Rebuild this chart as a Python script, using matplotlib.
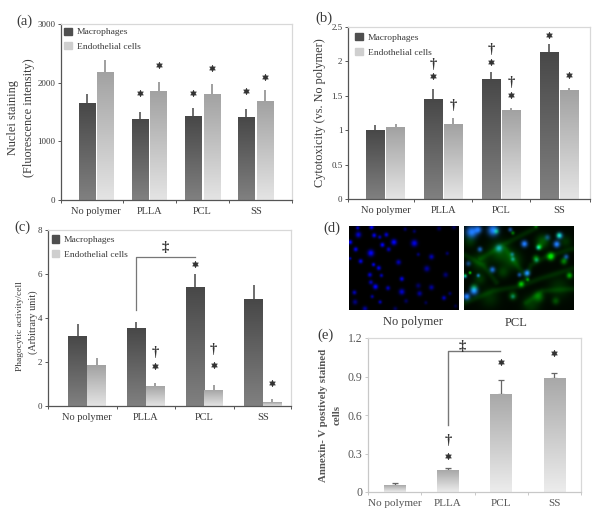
import numpy as np
import matplotlib
matplotlib.use('Agg')
import matplotlib.pyplot as plt
from matplotlib.patches import Patch

plt.rcParams['font.family'] = ['Liberation Serif', 'DejaVu Serif']

W, H = 600, 521
INK = '#3a3a3a'
categories = ['No polymer', 'PLLA', 'PCL', 'SS']
series_names = ['Macrophages', 'Endothelial cells']

# Panel (a)
a_mac = [1645, 1383, 1429, 1412]
a_mac_top = [1805, 1508, 1571, 1548]
a_endo = [2186, 1850, 1810, 1685]
a_endo_top = [2385, 2010, 1975, 1873]
a_ticks = [0, 1000, 2000, 3000]
a_stars_mac = [None, 1827, 1827, 1850]
a_stars_endo = [None, 2300, 2248, 2100]

# Panel (b)
b_mac = [1.0, 1.447, 1.738, 2.13]
b_mac_top = [1.07, 1.6, 1.845, 2.257]
b_endo = [1.04, 1.09, 1.29, 1.578]
b_endo_top = [1.087, 1.184, 1.32, 1.61]
b_ticks = [0, 0.5, 1, 1.5, 2, 2.5]
b_tick_labels = ['0', '0.5', '1', '1.5', '2', '2.5']
b_stars_mac = [None, 1.786, 1.995, 2.39]
b_stars_endo = [None, None, 1.51, 1.80]
b_dag_mac = [None, 1.95, 2.17, None]
b_dag_endo = [None, 1.364, 1.69, None]

# Panel (c)
c_mac = [3.16, 3.54, 5.39, 4.86]
c_mac_top = [3.75, 3.83, 5.99, 5.5]
c_endo = [1.86, 0.91, 0.74, 0.17]
c_endo_top = [2.16, 1.06, 0.95, 0.33]
c_ticks = [0, 2, 4, 6, 8]
c_stars_mac = [None, None, 6.44, None]
c_stars_endo = [None, 1.8, 1.88, 1.06]
c_dag_endo = [None, 2.44, 2.56, None]
c_bracket = [4.36, 6.79]
c_ddag = 7.2

# Panel (e)
e_vals = [0.052, 0.171, 0.766, 0.891]
e_top = [0.07, 0.19, 0.873, 0.927]
e_ticks = [0, 0.3, 0.6, 0.9, 1.2]
e_tick_labels = ['0', '0.3', '0.6', '0.9', '1.2']
e_stars = [None, 0.283, 1.01, 1.08]
e_dag = [None, 0.40, None, None]
e_bracket = [0.525, 1.10]
e_ddag = 1.135

# Panel (d) micrograph spots: x, y, radius, strength (crop coordinates)
d_left_blue = [(38,20,5,.8),(80,18,6,1),(40,40,8,.8),(88,42,6,.9),(105,47,5,.7),(125,40,6,.8),
               (15,62,6,1),(113,70,6,1),(148,62,8,1),(32,83,6,.9),(132,83,6,.7),(78,94,9,1),
               (15,110,4,.7),(47,118,6,.9),(86,128,5,.9),(102,138,6,.9),(162,121,7,.7),(75,158,6,.8),
               (110,160,5,.7),(78,180,6,.7),(92,193,7,1),(130,197,6,.7),(172,170,6,.9),(172,208,8,.8),
               (28,210,6,.7),(82,222,5,.6),(30,238,7,.5),(106,238,5,.7),(60,258,7,.6),(185,235,6,.35),
               (210,65,9,.9),(182,24,5,.4),(210,30,5,.4),(222,98,5,.45),(262,105,7,.7),(310,95,5,.4),
               (248,140,8,.6),(305,158,7,.45),(222,190,7,.4),(262,195,7,.6),(226,213,7,.6),(300,226,6,.7),
               (318,213,5,.4),(245,240,5,.3),(285,22,6,.35),(330,18,6,.35),(335,250,5,.25),(152,258,6,.35)]
d_right_blue = [(35,32,16,1),(55,25,10,.8),(100,27,15,1),(195,67,9,1),(293,68,9,1),(302,43,9,.8),(265,48,8,.45),
                (237,78,6,.6),(60,83,7,.7),(118,80,10,.7),(158,98,6,.5),(160,112,6,.5),(322,105,7,.6),
                (25,125,7,.5),(98,143,8,.8),(55,160,5,.7),(15,163,5,.6),(203,153,8,1),(180,158,6,.6),
                (42,205,11,1),(20,222,9,1),(160,222,6,.35),(232,115,6,.35),(152,25,6,.6)]
d_right_green = [(120,90,28,.32),(60,120,24,.22),(250,60,18,.35),(275,104,10,1),(240,76,8,.7),
                 (160,115,24,.28),(30,152,4,.9),(300,42,7,.6),(315,118,9,.55),(332,160,8,.7),
                 (185,185,8,.8),(205,172,5,.6),(238,222,14,.45),(160,220,11,.4),(15,160,5,.6),
                 (42,195,10,.4),(110,30,7,.5),(160,35,5,.5),(230,110,9,.55),(60,170,16,.2),
                 (130,150,16,.22),(230,15,5,.4),(290,235,10,.3),(30,60,16,.18),(320,60,16,.18),
                 (90,225,26,.16),(215,245,24,.2),(300,195,30,.16)]
d_right_fibres = [[(15,240),(100,205),(180,192),(240,170),(340,140)],
                  [(190,190),(215,130),(260,105),(340,82)],
                  [(60,112),(130,70),(230,20)],
                  [(130,70),(180,140),(200,160)],
                  [(15,100),(70,130),(110,180)],
                  [(200,240),(250,205),(340,200)]]
d_fibre_strength = 0.14
d_fibre_width = 6

def box(ax_left, top, right, bottom):
    return [ax_left / W, 1 - bottom / H, (right - ax_left) / W, (bottom - top) / H]

def label(x, y, s, **kw):
    kw.setdefault('color', INK)
    kw.setdefault('ha', 'center')
    kw.setdefault('va', 'center')
    return fig.text(x / W, 1 - y / H, s, **kw)

def gradient_bars(ax, xs, vals, width, top_col, bottom_col):
    c0 = np.array(matplotlib.colors.to_rgb(top_col))
    c1 = np.array(matplotlib.colors.to_rgb(bottom_col))
    ramp = np.linspace(0, 1, 64)[:, None, None]
    img = c0[None, None, :] * (1 - ramp) + c1[None, None, :] * ramp
    for bar in ax.bar(xs, vals, width, color=(c0 + c1) / 2, linewidth=0, zorder=2):
        im = ax.imshow(img, extent=(bar.get_x(), bar.get_x() + bar.get_width(), 0, bar.get_height()),
                       aspect='auto', zorder=2.1, interpolation='bilinear')
        im.set_clip_path(bar)

def errs(ax, xs, vals, tops, col, cap=0, lw=1.2):
    up = np.array(tops) - np.array(vals)
    ax.errorbar(xs, vals, yerr=[np.zeros_like(up), up], fmt='none', ecolor=col,
                elinewidth=lw, capsize=cap, capthick=lw, zorder=1.5)

def marks(ax, xs, ys, kind):
    for x, y in zip(xs, ys):
        if y is None:
            continue
        if kind == '*':
            ax.plot([x], [y], marker=(6, 1, 0), ms=4.8, color='#333333', mew=0.4, ls='none', zorder=4)
        else:
            ax.text(x, y, kind, ha='center', va='center', fontsize=10.5, fontweight='bold',
                    color='#333333', zorder=4)

def style(ax, ticks, tick_labels, xlim, ylim, xedges, tick_size=6.5, x_size=7.5, dark=True):
    ax.set_xlim(*xlim)
    ax.set_ylim(*ylim)
    ax.set_yticks(ticks)
    ax.set_yticklabels(tick_labels, fontsize=tick_size, color=INK)
    ax.set_xticks(xedges)
    ax.set_xticklabels([])
    ax.set_xticks(range(len(categories)), categories, minor=True, fontsize=x_size, color=INK)
    ax.tick_params(axis='x', which='minor', length=0, pad=5)
    col = '#555555' if dark else '#c8c8c8'
    ax.tick_params(axis='both', which='major', length=2.5, width=0.7, color=col, pad=1.5, direction='out')
    for s in ('top', 'right'):
        ax.spines[s].set_color('#d8d8d8')
        ax.spines[s].set_linewidth(0.9)
    for s in ('left', 'bottom'):
        ax.spines[s].set_color(col)
        ax.spines[s].set_linewidth(0.9)

def add_legend(ax, anchor):
    handles = [Patch(color='#4f4f4f'), Patch(color='#cfcfcf')]
    ax.legend(handles, series_names, loc='upper left', bbox_to_anchor=anchor, frameon=False,
              fontsize=6.8, labelcolor=INK, handlelength=0.8, handleheight=0.8, handletextpad=0.5,
              labelspacing=0.62, borderpad=0, borderaxespad=0)

MAC = ('#484848', '#808080')
END = ('#a2a2a2', '#e4e4e4')
fig = plt.figure(figsize=(W / 100, H / 100), dpi=100, facecolor='white')
idx = np.arange(len(categories))

def grouped(rect, mac, mac_top, endo, endo_top, ticks, tl, xlim, ylim, off, width, legend_anchor, **kw):
    ax = fig.add_axes(box(*rect))
    errs(ax, idx - off, mac, mac_top, '#555555')
    errs(ax, idx + off, endo, endo_top, '#8f8f8f')
    gradient_bars(ax, idx - off, mac, width, *MAC)
    gradient_bars(ax, idx + off, endo, width, *END)
    edges = [xlim[0], 0.5, 1.5, 2.5, xlim[1]]
    style(ax, ticks, tl, xlim, ylim, edges, **kw)
    add_legend(ax, legend_anchor)
    return ax

# (a)
ax = grouped((61, 24, 292, 200), a_mac, a_mac_top, a_endo, a_endo_top, a_ticks, a_ticks,
             (-0.66, 3.68), (0, 3000), 0.175, 0.31, (0.015, 0.98))
marks(ax, idx - 0.175, a_stars_mac, '*')
marks(ax, idx + 0.175, a_stars_endo, '*')
label(24, 21, '(a)', fontsize=10.5)
label(13, 118, 'Nuclei staining', rotation=90, fontsize=8.8)
label(29, 118, '(Fluorescence intensity)', rotation=90, fontsize=8.8)

# (b)
ax = grouped((348, 27, 590, 199), b_mac, b_mac_top, b_endo, b_endo_top, b_ticks, b_tick_labels,
             (-0.645, 3.53), (0, 2.5), 0.175, 0.32, (0.03, 0.965))
marks(ax, idx - 0.175, b_stars_mac, '*')
marks(ax, idx + 0.175, b_stars_endo, '*')
marks(ax, idx - 0.175, b_dag_mac, '†')
marks(ax, idx + 0.175, b_dag_endo, '†')
label(324, 18, '(b)', fontsize=10.5)
label(320, 113, 'Cytotoxicity (vs. No polymer)', rotation=90, fontsize=8.8)

# (c)
ax = grouped((48, 230, 291, 406), c_mac, c_mac_top, c_endo, c_endo_top, c_ticks, c_ticks,
             (-0.67, 3.48), (0, 8), 0.16, 0.32, (0.015, 0.97))
marks(ax, idx - 0.16, c_stars_mac, '*')
marks(ax, idx + 0.16, c_stars_endo, '*')
marks(ax, idx + 0.16, c_dag_endo, '†')
ax.plot([1 - 0.16, 1 - 0.16, 2 - 0.16], [c_bracket[0], c_bracket[1], c_bracket[1]],
        color='#777777', lw=0.9, zorder=3)
marks(ax, [1.34], [c_ddag], '‡')
label(22, 227, '(c)', fontsize=10.5)
label(20, 326, 'Phagocytic activity/cell', rotation=90, fontsize=6.8)
label(33, 322, '(Arbitrary unit)', rotation=90, fontsize=7.4)

# (d)
def render(spots, nx=334, ny=250):
    yy, xx = np.mgrid[0:ny, 0:nx]
    out = np.zeros((ny, nx))
    for x, y, r, s in spots:
        out += s * np.exp(-((xx + 12 - x) ** 2 + (yy + 12 - y) ** 2) / (2 * (r * 0.75) ** 2))
    return np.clip(out, 0, 1)

def render_fibres(fibres, strength, width, nx=334, ny=250):
    yy, xx = np.mgrid[0:ny, 0:nx]
    best = np.full((ny, nx), np.inf)
    for fibre in fibres:
        for (x0, y0), (x1, y1) in zip(fibre[:-1], fibre[1:]):
            dx, dy = x1 - x0, y1 - y0
            t = np.clip(((xx + 12 - x0) * dx + (yy + 12 - y0) * dy) / (dx * dx + dy * dy), 0, 1)
            d2 = (xx + 12 - x0 - t * dx) ** 2 + (yy + 12 - y0 - t * dy) ** 2
            best = np.minimum(best, d2)
    return strength * np.exp(-best / (2 * width ** 2))

left = np.zeros((250, 334, 3))
left[..., 2] = render(d_left_blue)
ax = fig.add_axes(box(349, 226, 459, 310))
ax.imshow(left, aspect='auto')
ax.axis('off')
blue = render(d_right_blue)
green = np.clip(render(d_right_green) + render_fibres(d_right_fibres, d_fibre_strength, d_fibre_width), 0, 1)
right = np.dstack([0.12 * blue, np.clip(green * 0.85 + 0.45 * blue + 0.03, 0, 1), blue])
ax = fig.add_axes(box(464, 226, 574, 310))
ax.imshow(right, aspect='auto')
ax.axis('off')
label(413, 322, 'No polymer', fontsize=9)
label(516, 323, 'PCL', fontsize=9)
label(332, 228, '(d)', fontsize=10.5)

# (e)
ax = fig.add_axes(box(368, 338, 581, 492))
errs(ax, idx, e_vals, e_top, '#666666', cap=2, lw=0.9)
gradient_bars(ax, idx, e_vals, 0.4, '#a8a8a8', '#ececec')
style(ax, e_ticks, e_tick_labels, (-0.5, 3.5), (0, 1.2), [-0.5, 0.5, 1.5, 2.5, 3.5],
      tick_size=8.5, x_size=8, dark=False)
ax.tick_params(axis='y', labelcolor='#555555')
for t in ax.get_xticklabels(minor=True):
    t.set_color('#555555')
marks(ax, idx, e_stars, '*')
marks(ax, idx, e_dag, '†')
ax.plot([1, 1, 1.97], [e_bracket[0], e_bracket[1], e_bracket[1]], color='#777777', lw=1.0, zorder=3)
marks(ax, [1.27], [e_ddag], '‡')
label(325, 335, '(e)', fontsize=10.5)
label(323, 415, 'Annexin- V postively stained', rotation=90, fontsize=7.8, fontweight='bold', color='#555555')
label(337, 415, 'cells', rotation=90, fontsize=7.8, fontweight='bold', color='#555555')

fig.savefig('out.png', dpi=100)
